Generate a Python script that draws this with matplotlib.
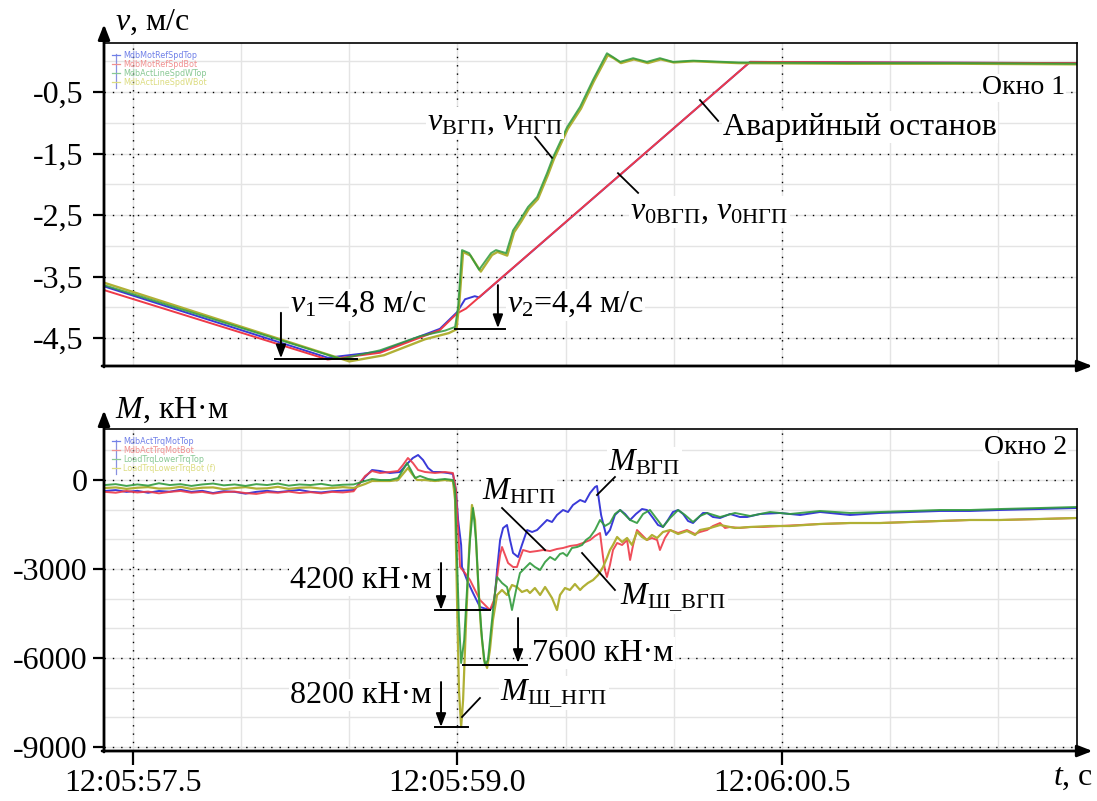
import matplotlib
matplotlib.use('Agg')
import matplotlib.pyplot as plt

plt.rcParams['font.family'] = ['Liberation Serif', 'DejaVu Serif']
plt.rcParams['mathtext.fontset'] = 'custom'
plt.rcParams['mathtext.rm'] = 'Liberation Serif'
plt.rcParams['mathtext.it'] = 'Liberation Serif:italic'
plt.rcParams['mathtext.bf'] = 'Liberation Serif:bold'

# ---------------- data: time in seconds after 12:05:00 ----------------
# Window 1: speeds, m/s
t_v0_top = [57.366, 58.40, 58.642, 58.919, 58.998, 59.035, 59.08, 59.10, 60.353, 61.0, 61.864]
v0_top = [-3.66, -4.82, -4.72, -4.35, -4.08, -3.87, -3.82, -3.84, -0.01, -0.02, -0.03]

t_v0_bot = [57.366, 58.40, 58.642, 58.919, 58.998, 59.04, 60.353, 61.0, 61.864]
v0_bot = [-3.72, -4.85, -4.74, -4.37, -4.10, -4.02, -0.01, -0.02, -0.03]

t_v_top = [57.366, 58.46, 58.642, 58.827, 58.942, 58.989, 59.003, 59.021, 59.054, 59.100,
           59.155, 59.178, 59.225, 59.257, 59.289, 59.326, 59.368, 59.414, 59.442, 59.507,
           59.567, 59.627, 59.691, 59.718, 59.752, 59.812, 59.876, 59.936, 59.996, 60.089,
           60.30, 60.80, 61.30, 61.864]
v_top = [-3.64, -4.84, -4.70, -4.47, -4.38, -4.32, -4.00, -3.07, -3.12, -3.39,
         -3.12, -3.07, -3.12, -2.75, -2.58, -2.37, -2.21, -1.82, -1.56, -1.07,
         -0.74, -0.30, 0.13, 0.07, -0.01, 0.05, -0.01, 0.05, -0.01, 0.01,
         -0.02, -0.03, -0.03, -0.04]

t_v_bot = [57.366, 58.50, 58.66, 58.85, 58.96, 58.995, 59.008, 59.026, 59.060, 59.108,
           59.160, 59.185, 59.230, 59.262, 59.294, 59.330, 59.372, 59.418, 59.446, 59.510,
           59.571, 59.630, 59.695, 59.722, 59.756, 59.816, 59.880, 59.940, 60.000, 60.093,
           60.30, 60.80, 61.30, 61.864]
v_bot = [-3.60, -4.88, -4.78, -4.52, -4.42, -4.36, -3.95, -3.10, -3.16, -3.42,
         -3.15, -3.10, -3.16, -2.78, -2.61, -2.40, -2.24, -1.85, -1.59, -1.10,
         -0.77, -0.33, 0.10, 0.05, -0.03, 0.03, -0.03, 0.03, -0.02, 0.00,
         -0.03, -0.04, -0.04, -0.05]

# Window 2: torques, kN*m
t_pre = [57.37, 57.42, 57.47, 57.52, 57.57, 57.62, 57.67, 57.72, 57.77, 57.82, 57.87, 57.92,
         57.97, 58.02, 58.07, 58.12, 58.17, 58.22, 58.27, 58.32, 58.37, 58.42, 58.47, 58.52]
M_vgp_pre = [-370, -340, -400, -365, -430, -370, -395, -330, -400, -365, -440, -375,
             -400, -460, -400, -365, -410, -370, -335, -400, -420, -380, -360, -340]
M_ngp_pre = [-400, -430, -370, -420, -390, -450, -400, -370, -430, -400, -460, -410,
             -390, -440, -470, -410, -430, -390, -440, -410, -450, -400, -420, -380]
M_sh_vgp_pre = [-170, -140, -200, -150, -190, -110, -170, -140, -200, -150, -120, -180,
                -150, -200, -140, -170, -120, -190, -150, -170, -130, -190, -160, -150]
M_sh_ngp_pre = [-270, -250, -300, -260, -240, -290, -280, -230, -300, -260, -250, -310,
                -270, -240, -290, -280, -230, -300, -260, -250, -290, -270, -240, -270]

t_vgp = [58.573, 58.605, 58.642, 58.688, 58.734, 58.771, 58.794, 58.818, 58.841, 58.864,
         58.887, 58.919, 58.956, 58.979, 58.993, 59.003, 59.017, 59.021, 59.044, 59.072,
         59.104, 59.150, 59.169, 59.183, 59.197, 59.211, 59.229, 59.243, 59.257, 59.280,
         59.298, 59.322, 59.345, 59.368, 59.391, 59.414, 59.437, 59.460, 59.488, 59.511,
         59.534, 59.567, 59.590, 59.613, 59.636, 59.645, 59.654, 59.664, 59.673, 59.687,
         59.705, 59.728, 59.752, 59.775, 59.798, 59.825, 59.853, 59.876, 59.904, 59.927,
         59.950, 59.973, 59.996, 60.020, 60.043, 60.066, 60.089, 60.112, 60.135, 60.154,
         60.181, 60.214, 60.260, 60.306, 60.339, 60.399, 60.491, 60.584, 60.676, 60.815,
         60.953, 61.092, 61.231, 61.370, 61.508, 61.693, 61.864]
M_vgp = [101, 337, 303, 236, 270, 573, 742, 843, 674, 405,
         270, 270, 236, 202, -337, -1348, -2191, -2933, -3371, -3809,
         -4281, -4382, -4214, -3034, -2023, -1618, -1517, -2023, -2461, -2596,
         -2191, -1686, -1753, -1686, -1517, -1348, -1416, -1180, -1011, -1079,
         -843, -674, -742, -438, -236, -202, -674, -1180, -1450, -1854,
         -1686, -1180, -1011, -1146, -1348, -1146, -978, -1011, -1281, -1517,
         -1584, -1348, -1079, -1011, -1146, -1382, -1450, -1281, -1112, -1112,
         -1247, -1281, -1146, -1247, -1247, -1146, -1112, -1180, -1079, -1180,
         -1112, -1079, -1045, -1045, -1011, -978, -944]

t_ngp = [58.573, 58.605, 58.642, 58.688, 58.725, 58.748, 58.771, 58.794, 58.818, 58.850,
         58.896, 58.942, 58.979, 58.993, 59.003, 59.012, 59.035, 59.058, 59.081, 59.104,
         59.150, 59.169, 59.183, 59.197, 59.206, 59.220, 59.234, 59.257, 59.275, 59.289,
         59.303, 59.335, 59.368, 59.396, 59.428, 59.460, 59.488, 59.520, 59.553, 59.580,
         59.613, 59.636, 59.659, 59.673, 59.682, 59.691, 59.705, 59.719, 59.738, 59.761,
         59.784, 59.798, 59.812, 59.830, 59.853, 59.876, 59.899, 59.923, 59.936, 59.959,
         59.983, 60.020, 60.061, 60.098, 60.121, 60.154, 60.181, 60.214, 60.237, 60.260,
         60.306, 60.353, 60.413, 60.491, 60.584, 60.676, 60.815, 60.953, 61.092, 61.231,
         61.370, 61.508, 61.693, 61.864]
M_ngp = [135, 303, 236, 270, 303, 506, 742, 573, 337, 270,
         236, 270, 236, -337, -1686, -2933, -3135, -3371, -3708, -4045,
         -4382, -4045, -3270, -2529, -2259, -2529, -2798, -2933, -2933, -2629,
         -2360, -2427, -2394, -2360, -2394, -2326, -2292, -2225, -2191, -2124,
         -2023, -1888, -1787, -2596, -3034, -3270, -2865, -2360, -2124, -2191,
         -2023, -2697, -2191, -1686, -1854, -2023, -1955, -2023, -2360, -1955,
         -1686, -1787, -1686, -1821, -1753, -1686, -1551, -1450, -1618, -1584,
         -1618, -1584, -1584, -1551, -1517, -1483, -1450, -1450, -1416, -1382,
         -1348, -1348, -1315, -1281]

t_sh_vgp = [58.573, 58.605, 58.642, 58.688, 58.725, 58.748, 58.767, 58.785, 58.804, 58.827,
            58.864, 58.896, 58.942, 58.979, 58.989, 58.998, 59.007, 59.017, 59.031, 59.044,
            59.058, 59.072, 59.086, 59.100, 59.114, 59.127, 59.141, 59.155, 59.169, 59.183,
            59.206, 59.229, 59.243, 59.252, 59.271, 59.289, 59.312, 59.335, 59.358, 59.382,
            59.405, 59.428, 59.451, 59.474, 59.488, 59.506, 59.529, 59.553, 59.576, 59.594,
            59.613, 59.636, 59.659, 59.682, 59.705, 59.728, 59.752, 59.775, 59.798, 59.830,
            59.858, 59.890, 59.918, 59.950, 59.983, 60.020, 60.052, 60.089, 60.121, 60.154,
            60.214, 60.283, 60.353, 60.445, 60.537, 60.676, 60.815, 60.953, 61.092, 61.231,
            61.370, 61.508, 61.693, 61.864]
M_sh_vgp = [-34, 34, 0, 0, 67, 337, 573, 337, 67, 135,
            34, 0, 34, 0, -337, -2697, -4719, -6169, -5394, -3708,
            -2023, -944, -2023, -4045, -5394, -6236, -6068, -5057, -4045, -3270,
            -3472, -3607, -4045, -4382, -3708, -3135, -2966, -2798, -2933, -3034,
            -2764, -2596, -2697, -2494, -2461, -2562, -2292, -2259, -2191, -2023,
            -1921, -1686, -1348, -1550, -1450, -1146, -1011, -1180, -1348, -1450,
            -1146, -1011, -1281, -1584, -1281, -1011, -1180, -1416, -1213, -1112,
            -1247, -1112, -1213, -1079, -1146, -1045, -1112, -1079, -1045, -1011,
            -1011, -978, -944, -910]

t_sh_ngp = [58.573, 58.605, 58.642, 58.688, 58.725, 58.748, 58.771, 58.790, 58.813, 58.850,
            58.896, 58.942, 58.979, 58.989, 58.998, 59.007, 59.017, 59.026, 59.040, 59.054,
            59.067, 59.081, 59.095, 59.109, 59.123, 59.137, 59.150, 59.164, 59.183, 59.206,
            59.229, 59.252, 59.275, 59.298, 59.322, 59.335, 59.358, 59.382, 59.405, 59.414,
            59.437, 59.460, 59.474, 59.497, 59.520, 59.543, 59.567, 59.580, 59.603, 59.627,
            59.650, 59.673, 59.691, 59.705, 59.719, 59.738, 59.761, 59.784, 59.807, 59.830,
            59.853, 59.876, 59.899, 59.923, 59.950, 59.983, 60.020, 60.061, 60.098, 60.121,
            60.168, 60.214, 60.283, 60.353, 60.445, 60.537, 60.676, 60.815, 60.953, 61.092,
            61.231, 61.370, 61.508, 61.693, 61.864]
M_sh_ngp = [-135, -34, -34, -34, 0, 202, 405, 202, 0, 0,
            -34, 0, -34, -674, -4045, -7079, -8326, -7416, -4719, -2360,
            -843, -1348, -3371, -5057, -6068, -6337, -5731, -4719, -3876, -3708,
            -3876, -3540, -3607, -3775, -3708, -3809, -3641, -3876, -3607, -3708,
            -3977, -4382, -3876, -3641, -3708, -3506, -3708, -3607, -3472, -3371,
            -3203, -2933, -2629, -2360, -2191, -1921, -2090, -1955, -2191, -1753,
            -1921, -2023, -1854, -1955, -1753, -1686, -1821, -1719, -1854, -1686,
            -1618, -1517, -1618, -1584, -1551, -1551, -1483, -1450, -1450, -1416,
            -1382, -1348, -1348, -1315, -1281]

v_ticks = [-0.5, -1.5, -2.5, -3.5, -4.5]
v_ticklabels = ['-0,5', '-1,5', '-2,5', '-3,5', '-4,5']
M_ticks = [0, -3000, -6000, -9000]
M_ticklabels = ['0', '-3000', '-6000', '-9000']
t_ticks = [57.5, 59.0, 60.5]
t_ticklabels = ['12:05:57.5', '12:05:59.0', '12:06:00.5']

legend1 = ['MdbMotRefSpdTop', 'MdbMotRefSpdBot', 'MdbActLineSpdWTop', 'MdbActLineSpdWBot']
legend2 = ['MdbActTrqMotTop', 'MdbActTrqMotBot', 'LoadTrqLowerTrqTop', 'LoadTrqLowerTrqBot (f)']

C_BLUE = '#3a3ad8'
C_RED = '#ee3a48'
C_GREEN = '#2f9a3c'
C_OLIVE = '#b0b035'
leg_cols = ['#7080e8', '#f09090', '#88c894', '#dcdc80']

# ---------------- figure ----------------
W, H = 1097, 801
fig = plt.figure(figsize=(W / 100, H / 100), dpi=100)
ax1 = fig.add_axes([104 / W, 1 - 366 / H, 973 / W, 323 / H])
ax2 = fig.add_axes([104 / W, 1 - 751 / H, 973 / W, 322 / H])

XL = (57.366, 61.864)


def frame(ax, minor_y, major_y, ylim):
    ax.set_xlim(*XL)
    ax.set_ylim(*ylim)
    for tv in [57.5, 58.0, 58.5, 59.0, 59.5, 60.0, 60.5, 61.0, 61.5]:
        ax.axvline(tv, color='#e4e4e4', lw=1.0, zorder=0)
    for yv in minor_y:
        ax.axhline(yv, color='#e4e4e4', lw=1.0, zorder=0)
    for tv in t_ticks:
        ax.axvline(tv, color='black', lw=1.0, ls=(0, (1, 5)), zorder=0.5)
    for yv in major_y:
        ax.axhline(yv, color='black', lw=1.0, ls=(0, (1, 5)), zorder=0.5)
    ax.spines['left'].set_visible(False)
    ax.spines['bottom'].set_visible(False)
    ax.spines['top'].set_linewidth(1.2)
    ax.spines['right'].set_linewidth(1.2)
    ax.annotate('', xy=(0, 1.058), xytext=(0, -0.003), xycoords='axes fraction',
                arrowprops=dict(arrowstyle='-|>,head_length=0.9,head_width=0.35', lw=2.0,
                                color='black', shrinkA=0, shrinkB=0), annotation_clip=False)
    ax.annotate('', xy=(1.016, 0), xytext=(-0.002, 0), xycoords='axes fraction',
                arrowprops=dict(arrowstyle='-|>,head_length=0.9,head_width=0.35', lw=2.0,
                                color='black', shrinkA=0, shrinkB=0), annotation_clip=False)


frame(ax1, [0.0, -0.5, -1.0, -1.5, -2.0, -2.5, -3.0, -3.5, -4.0, -4.5], v_ticks, (-4.955, 0.297))
frame(ax2, [1000, 0, -1000, -2000, -3000, -4000, -5000, -6000, -7000, -8000, -9000], M_ticks, (-9135, 1719))

# ---- ticks
ax1.set_yticks(v_ticks)
ax1.set_yticklabels(v_ticklabels)
ax1.set_xticks([])
ax1.tick_params(axis='y', direction='out', length=8, width=1.6, pad=7, labelsize=23)
ax2.set_yticks(M_ticks)
ax2.set_yticklabels(M_ticklabels)
ax2.set_xticks(t_ticks)
ax2.set_xticklabels(t_ticklabels)
ax2.tick_params(axis='y', direction='out', length=8, width=1.6, pad=4, labelsize=23)
ax2.tick_params(axis='x', direction='out', length=10, width=1.6, pad=3, labelsize=23)

# ---- window 1 curves
ax1.plot(t_v0_top, v0_top, color=C_BLUE, lw=1.4, zorder=2)
ax1.plot(t_v0_bot, v0_bot, color=C_RED, lw=1.4, zorder=2.1)
ax1.plot(t_v_bot, v_bot, color=C_OLIVE, lw=1.7, zorder=2.2)
ax1.plot(t_v_top, v_top, color=C_GREEN, lw=1.4, alpha=0.85, zorder=2.3)

# ---- window 2 curves
ax2.plot(t_pre + t_vgp, M_vgp_pre + M_vgp, color=C_BLUE, lw=1.4, zorder=2)
ax2.plot(t_pre + t_ngp, M_ngp_pre + M_ngp, color=C_RED, lw=1.4, alpha=0.9, zorder=2.1)
ax2.plot(t_pre + t_sh_ngp, M_sh_ngp_pre + M_sh_ngp, color=C_OLIVE, lw=1.6, zorder=2.2)
ax2.plot(t_pre + t_sh_vgp, M_sh_vgp_pre + M_sh_vgp, color=C_GREEN, lw=1.4, alpha=0.9, zorder=2.3)

# ---- tiny legends
for ax, labels in ((ax1, legend1), (ax2, legend2)):
    ax.plot([0.012, 0.012], [0.86, 0.965], transform=ax.transAxes, color='#8890e0', lw=0.9)
    for i, (lab, c) in enumerate(zip(labels, leg_cols)):
        y = 0.962 - i * 0.028
        ax.plot([0.008, 0.016], [y, y], transform=ax.transAxes, color=c, lw=0.9)
        ax.text(0.02, y, lab, transform=ax.transAxes, fontsize=5.8, color=c,
                va='center', ha='left', family='DejaVu Sans')

WB = dict(facecolor='white', edgecolor='none', pad=1.0)
FS = 23


def note(ax, x, y, s, ha='left', fs=FS):
    ax.text(x, y, s, ha=ha, va='center', fontsize=fs, bbox=WB, zorder=5)


def leader(ax, p0, p1):
    ax.plot([p0[0], p1[0]], [p0[1], p1[1]], color='black', lw=1.3, zorder=6)


def arrow_down(ax, x, y0, y1):
    ax.annotate('', xy=(x, y1), xytext=(x, y0),
                arrowprops=dict(arrowstyle='-|>,head_length=0.8,head_width=0.3', lw=1.4,
                                color='black', shrinkA=0, shrinkB=0), zorder=6)


# window 1 annotations
note(ax1, 61.809, -0.43, 'Окно 1', ha='right', fs=20)
note(ax1, 58.859, -1.00, r'$v_{\mathrm{ВГП}}$, $v_{\mathrm{НГП}}$')
leader(ax1, (59.359, -1.23), (59.437, -1.57))
note(ax1, 60.228, -1.07, 'Аварийный останов')
leader(ax1, (60.121, -0.63), (60.205, -0.97))
note(ax1, 59.798, -2.45, r'$v_{0\mathrm{ВГП}}$, $v_{0\mathrm{НГП}}$')
leader(ax1, (59.742, -1.82), (59.835, -2.14))
note(ax1, 58.226, -3.96, r'$v_1$=4,8 м/с')
arrow_down(ax1, 58.184, -4.09, -4.83)
ax1.plot([58.157, 58.536], [-4.84, -4.84], color='black', lw=1.4, zorder=6)
note(ax1, 59.229, -3.96, r'$v_2$=4,4 м/с')
arrow_down(ax1, 59.187, -3.64, -4.34)
ax1.plot([58.989, 59.220], [-4.35, -4.35], color='black', lw=1.4, zorder=6)

# window 2 annotations
note(ax2, 61.818, 1112, 'Окно 2', ha='right', fs=20)
note(ax2, 59.696, 573, r'$M_{\mathrm{ВГП}}$')
leader(ax2, (59.728, 101), (59.645, -506))
note(ax2, 59.113, -405, r'$M_{\mathrm{НГП}}$')
leader(ax2, (59.206, -944), (59.405, -2360))
note(ax2, 59.752, -3944, r'$M_{\mathrm{Ш\_ВГП}}$')
leader(ax2, (59.576, -2461), (59.728, -3708))
note(ax2, 59.197, -7180, r'$M_{\mathrm{Ш\_НГП}}$')
leader(ax2, (59.021, -7989), (59.104, -7349))
note(ax2, 58.882, -3371, '4200 кН·м', ha='right')
arrow_down(ax2, 58.924, -2798, -4382)
ax2.plot([58.896, 59.150], [-4382, -4382], color='black', lw=1.4, zorder=6)
note(ax2, 59.345, -5832, '7600 кН·м')
arrow_down(ax2, 59.280, -4652, -6169)
ax2.plot([59.026, 59.322], [-6236, -6236], color='black', lw=1.4, zorder=6)
note(ax2, 58.882, -7248, '8200 кН·м', ha='right')
arrow_down(ax2, 58.924, -6810, -8326)
ax2.plot([58.896, 59.049], [-8326, -8326], color='black', lw=1.4, zorder=6)

# axis titles
fig.text(115 / W, 1 - 22 / H, r'$v$, м/с', ha='left', va='center', fontsize=FS)
fig.text(115 / W, 1 - 410 / H, r'$M$, кН·м', ha='left', va='center', fontsize=FS)
fig.text(1093 / W, 1 - 778 / H, r'$t$, с', ha='right', va='center', fontsize=FS)

fig.savefig('out.png', dpi=100)
